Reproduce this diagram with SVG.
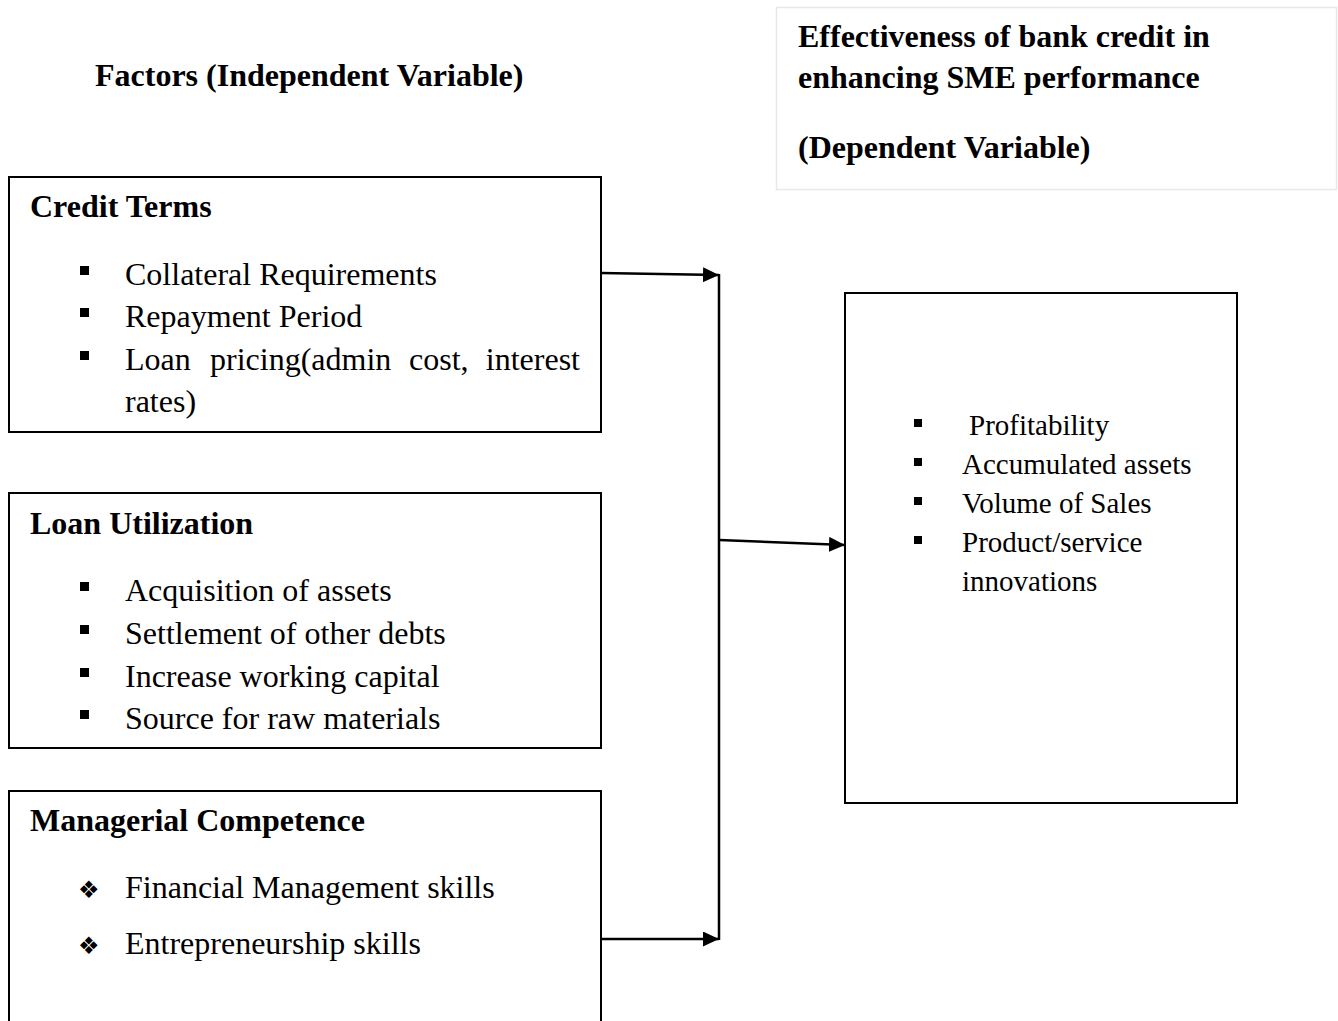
<svg xmlns="http://www.w3.org/2000/svg" width="1338" height="1021" viewBox="0 0 1338 1021">
<style>
text{font-family:"Liberation Serif","Times New Roman",serif;fill:#000}
.b{font-weight:bold;font-size:32px}
.t{font-size:32px}
.r{font-size:29px}
.d{font-family:"DejaVu Sans",sans-serif;font-size:24px}
.box{fill:#fff;stroke:#000;stroke-width:2}
.ln{stroke:#000;stroke-width:2.5;fill:none}
</style>
<defs>
<marker id="a" viewBox="0 0 16 15" refX="16" refY="7.5" markerWidth="16" markerHeight="15" markerUnits="userSpaceOnUse" orient="auto"><path d="M0,0 L16,7.5 L0,15 z" fill="#000"/></marker>
</defs>
<rect width="1338" height="1021" fill="#fff"/>
<g id="title-left"><text class="b" x="95" y="86">Factors (Independent Variable)</text></g>
<g id="title-right">
<rect x="776.5" y="7.5" width="560" height="182" fill="#fff" stroke="#e8e8e8" stroke-width="1.5"/>
<text class="b" x="798" y="47">Effectiveness of bank credit in</text>
<text class="b" x="798" y="88">enhancing SME performance</text>
<text class="b" x="798" y="158">(Dependent Variable)</text>
</g>
<g id="credit-terms">
<rect class="box" x="9" y="177" width="592" height="255"/>
<text class="b" x="30" y="217">Credit Terms</text>
<rect x="80" y="266" width="9" height="9"/><text class="t" x="125" y="285">Collateral Requirements</text>
<rect x="80" y="308" width="9" height="9"/><text class="t" x="125" y="327">Repayment Period</text>
<rect x="80" y="351" width="9" height="9"/><text class="t" y="370"><tspan x="125">Loan</tspan><tspan x="210">pricing(admin</tspan><tspan x="409">cost,</tspan></text><text class="t" x="580" y="370" text-anchor="end">interest</text>
<text class="t" x="125" y="412">rates)</text>
</g>
<g id="loan-utilization">
<rect class="box" x="9" y="493" width="592" height="255"/>
<text class="b" x="30" y="534">Loan Utilization</text>
<rect x="80" y="582" width="9" height="9"/><text class="t" x="125" y="601">Acquisition of assets</text>
<rect x="80" y="625" width="9" height="9"/><text class="t" x="125" y="644">Settlement of other debts</text>
<rect x="80" y="668" width="9" height="9"/><text class="t" x="125" y="687">Increase working capital</text>
<rect x="80" y="710" width="9" height="9"/><text class="t" x="125" y="729">Source for raw materials</text>
</g>
<g id="managerial-competence">
<rect class="box" x="9" y="791" width="592" height="240"/>
<text class="b" x="30" y="831">Managerial Competence</text>
<text class="d" x="78" y="898">❖</text><text class="t" x="125" y="898">Financial Management skills</text>
<text class="d" x="78" y="954">❖</text><text class="t" x="125" y="954">Entrepreneurship skills</text>
</g>
<g id="performance">
<rect class="box" x="845" y="293" width="392" height="510"/>
<rect x="914" y="419" width="8" height="8"/><text class="r" x="969" y="435">Profitability</text>
<rect x="914" y="458" width="8" height="8"/><text class="r" x="962" y="474">Accumulated assets</text>
<rect x="914" y="497" width="8" height="8"/><text class="r" x="962" y="513">Volume of Sales</text>
<rect x="914" y="536" width="8" height="8"/><text class="r" x="962" y="552">Product/service</text>
<text class="r" x="962" y="591">innovations</text>
</g>
<g id="connectors">
<line class="ln" x1="601" y1="273" x2="719" y2="275" marker-end="url(#a)"/>
<line class="ln" x1="719" y1="274" x2="719" y2="940"/>
<line class="ln" x1="719" y1="540" x2="845" y2="545" marker-end="url(#a)"/>
<line class="ln" x1="601" y1="939" x2="719" y2="939" marker-end="url(#a)"/>
</g>
</svg>
